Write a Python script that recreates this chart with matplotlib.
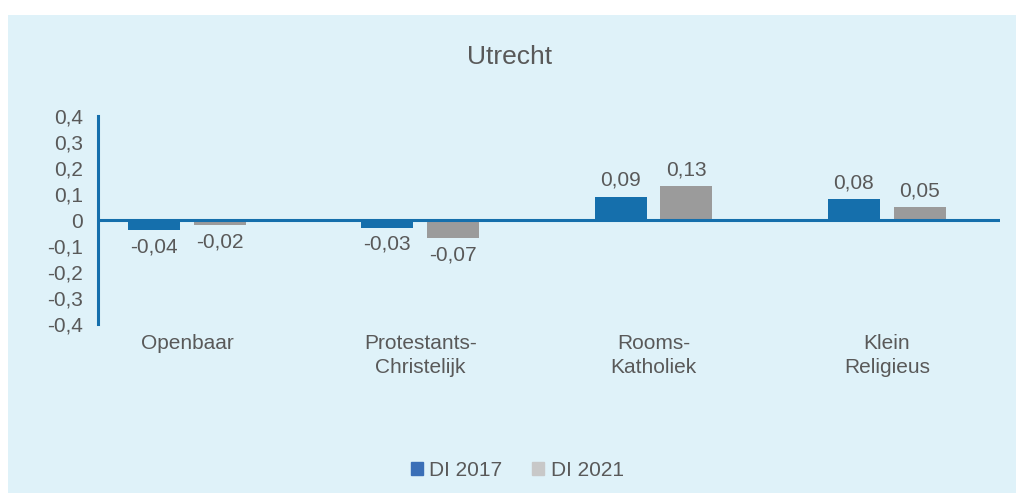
import numpy as np
from matplotlib import pyplot as plt
from matplotlib.patches import Rectangle, Patch
from matplotlib.ticker import FuncFormatter

# Data
categories = ["Openbaar", "Protestants-\nChristelijk", "Rooms-\nKatholiek", "Klein\nReligieus"]
di_2017 = [-0.04, -0.03, 0.09, 0.08]
di_2021 = [-0.02, -0.07, 0.13, 0.05]
series_names = ["DI 2017", "DI 2021"]


def comma(v, pos=None):
	"""Dutch decimal format"""
	if abs(v) < 1e-9:
		return "0"
	return f"{v:.1f}".replace(".", ",")


if __name__ == '__main__':

	plt.rcParams['font.family'] = ['Liberation Sans', 'DejaVu Sans']
	text_col = '#595959'
	blue = '#156fac'
	grey = '#9b9b9b'
	bg = '#dff2f9'
	font = 15

	fig = plt.figure(figsize=(10.16, 4.93), dpi=100)
	fig.patch.set_facecolor('white')
	fig.patches.append(Rectangle((8 / 1016, 0), 1, 1 - 15 / 493,
								 transform=fig.transFigure, facecolor=bg,
								 edgecolor='none', zorder=-10))

	ax = fig.add_axes([98 / 1016, 1 - 324 / 493, 902 / 1016, 208 / 493])
	ax.set_facecolor('none')

	x = np.arange(len(categories))
	width = 0.223
	off = 0.141
	b1 = ax.bar(x - off, di_2017, width, color=blue, zorder=2)
	b2 = ax.bar(x + off, di_2021, width, color=grey, zorder=2)

	for bars, vals in ((b1, di_2017), (b2, di_2021)):
		ax.bar_label(bars, labels=[f"{v:.2f}".replace(".", ",") for v in vals],
					 padding=5, fontsize=font, color=text_col)

	ax.set_xlim(-0.381, 3.485)
	ax.set_ylim(-0.4, 0.4)
	ax.set_yticks(np.arange(-0.4, 0.41, 0.1))
	ax.yaxis.set_major_formatter(FuncFormatter(comma))
	ax.set_xticks(x)
	ax.set_xticklabels(categories, linespacing=1.35)

	ax.tick_params(axis='both', length=0, labelsize=font, labelcolor=text_col)
	ax.tick_params(axis='y', pad=11)
	ax.tick_params(axis='x', pad=7)

	for s in ('top', 'right', 'bottom'):
		ax.spines[s].set_visible(False)
	ax.spines['left'].set_color(blue)
	ax.spines['left'].set_linewidth(2.2)
	ax.axhline(0, color=blue, linewidth=2.2, zorder=3)

	fig.text(0.502, 1 - 57 / 493, "Utrecht", ha='center', va='center',
			 fontsize=19, color=text_col)

	handles = [Patch(color='#3a6fb7'), Patch(color='#c8c8c8')]
	fig.legend(handles, series_names, loc='center', bbox_to_anchor=(0.509, 1 - 470 / 493),
			   ncol=2, frameon=False, fontsize=font, labelcolor=text_col,
			   handlelength=0.6, handleheight=0.6, handletextpad=0.3, columnspacing=1.4)

	fig.savefig('out.png', dpi=100)
